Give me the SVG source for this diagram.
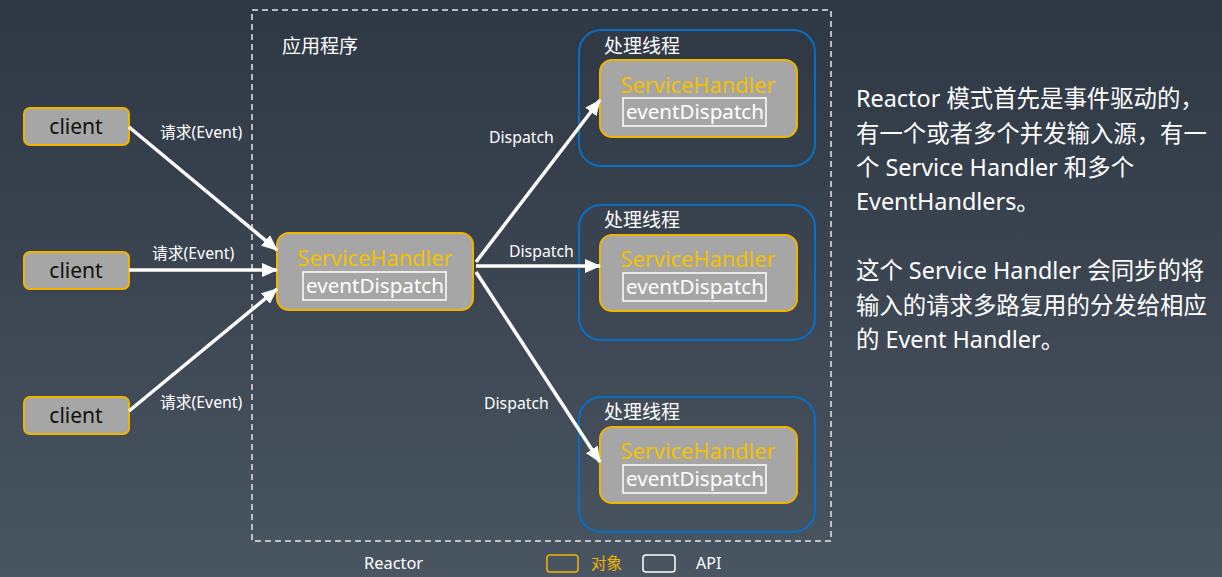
<svg xmlns="http://www.w3.org/2000/svg" width="1222" height="577" viewBox="0 0 1222 577">
<defs>
<linearGradient id="bg" x1="0" y1="0" x2="0" y2="1">
<stop offset="0" stop-color="#2e3744"/>
<stop offset="1" stop-color="#4a5562"/>
</linearGradient>
<marker id="ah" markerUnits="userSpaceOnUse" markerWidth="16" markerHeight="14" refX="15" refY="7" orient="auto">
<path d="M0,0 L16,7 L0,14 Z" fill="#ffffff"/>
</marker>
<style>
text{font-family:"Noto Sans","Noto Sans CJK SC",sans-serif;}
.obj{fill:#a6a6a6;stroke:#f0b400;stroke-width:2;}
.thread{fill:none;stroke:#0a6fc2;stroke-width:2;}
.api{fill:none;stroke:#ffffff;stroke-width:1.5;}
.cl{font-size:21px;fill:#111;text-anchor:middle;}
.sh{font-size:21.8px;fill:#f5c000;text-anchor:middle;}
.ed{font-size:20.6px;fill:#ffffff;text-anchor:middle;}
.lbl{font-size:15.8px;fill:#ffffff;}
.tl{font-size:19px;fill:#ffffff;}
.desc{font-size:23.4px;fill:#ffffff;}
.conn{stroke:#ffffff;stroke-width:3.5;fill:none;marker-end:url(#ah);}
</style>
</defs>
<rect width="1222" height="577" fill="url(#bg)"/>

<g id="reactor-boundary">
<rect x="252" y="10" width="579" height="531" fill="none" stroke="#e6e6e6" stroke-width="1.5" stroke-dasharray="6,4"/>
<text x="282" y="53" class="tl">应用程序</text>
</g>

<g id="client1"><rect x="24" y="108" width="105" height="37" rx="6" class="obj"/><text x="76" y="134" class="cl">client</text></g>
<g id="client2"><rect x="24" y="252" width="105" height="37" rx="6" class="obj"/><text x="76" y="278" class="cl">client</text></g>
<g id="client3"><rect x="24" y="397" width="105" height="37" rx="6" class="obj"/><text x="76" y="423" class="cl">client</text></g>

<g id="service-handler">
<rect x="277" y="233" width="196" height="77" rx="12" class="obj"/>
<text x="375" y="266" class="sh">ServiceHandler</text>
<rect x="303" y="272" width="143" height="28" class="api"/>
<text x="375" y="293" class="ed">eventDispatch</text>
</g>

<g id="thread1">
<rect x="579" y="30" width="236" height="136" rx="22" class="thread"/>
<text x="604" y="53" class="tl">处理线程</text>
<rect x="600" y="60" width="197" height="77" rx="12" class="obj"/>
<text x="698" y="93" class="sh">ServiceHandler</text>
<rect x="623" y="98" width="143" height="28" class="api"/>
<text x="695" y="119" class="ed">eventDispatch</text>
</g>
<g id="thread2">
<rect x="579" y="205" width="236" height="135" rx="22" class="thread"/>
<text x="604" y="227" class="tl">处理线程</text>
<rect x="600" y="235" width="197" height="76" rx="12" class="obj"/>
<text x="698" y="267" class="sh">ServiceHandler</text>
<rect x="623" y="273" width="143" height="28" class="api"/>
<text x="695" y="294" class="ed">eventDispatch</text>
</g>
<g id="thread3">
<rect x="579" y="397" width="236" height="135" rx="22" class="thread"/>
<text x="604" y="419" class="tl">处理线程</text>
<rect x="600" y="427" width="197" height="76" rx="12" class="obj"/>
<text x="698" y="459" class="sh">ServiceHandler</text>
<rect x="623" y="465" width="143" height="28" class="api"/>
<text x="695" y="486" class="ed">eventDispatch</text>
</g>

<g id="connectors">
<line x1="129" y1="127" x2="277" y2="250" class="conn"/>
<line x1="129" y1="270" x2="277" y2="270" class="conn"/>
<line x1="129" y1="411" x2="277" y2="289" class="conn"/>
<line x1="476" y1="262" x2="600" y2="100" class="conn"/>
<line x1="476" y1="266" x2="600" y2="266" class="conn"/>
<line x1="476" y1="272" x2="600" y2="462" class="conn"/>
<text x="160" y="138" class="lbl">请求(Event)</text>
<text x="152" y="259" class="lbl">请求(Event)</text>
<text x="160" y="408" class="lbl">请求(Event)</text>
<text x="489" y="143" class="lbl">Dispatch</text>
<text x="509" y="257" class="lbl">Dispatch</text>
<text x="484" y="409" class="lbl">Dispatch</text>
</g>

<g id="legend">
<text x="364" y="569" class="lbl" style="font-size:16.4px">Reactor</text>
<rect x="547" y="555" width="31" height="17" rx="3" fill="none" stroke="#f0b400" stroke-width="1.5"/>
<text x="591" y="569" class="lbl" style="font-size:15.5px;fill:#f0b400">对象</text>
<rect x="643" y="555" width="32" height="17" rx="3" class="api"/>
<text x="696" y="569" class="lbl" style="font-size:16px">API</text>
</g>

<g id="description">
<text x="856" y="107" class="desc">Reactor 模式首先是事件驱动的，</text>
<text x="856" y="142" class="desc">有一个或者多个并发输入源，有一</text>
<text x="856" y="176" class="desc">个 Service Handler 和多个</text>
<text x="856" y="210" class="desc">EventHandlers。</text>
<text x="856" y="279" class="desc">这个 Service Handler 会同步的将</text>
<text x="856" y="314" class="desc">输入的请求多路复用的分发给相应</text>
<text x="856" y="348" class="desc">的 Event Handler。</text>
</g>
</svg>
